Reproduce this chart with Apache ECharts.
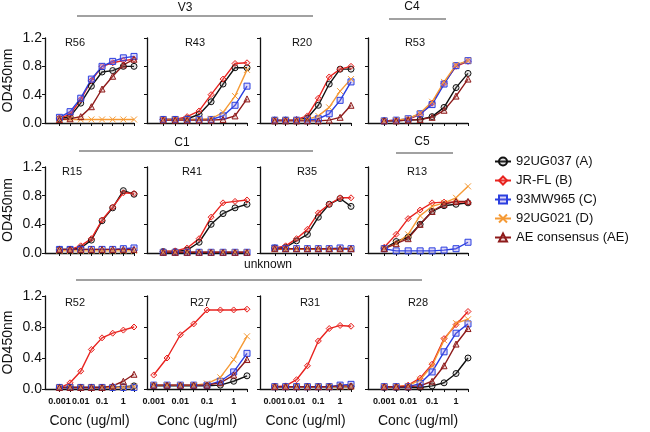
<!DOCTYPE html>
<html>
<head>
<meta charset="utf-8">
<script src="https://cdn.jsdelivr.net/npm/echarts@6/dist/echarts.min.js"></script>
<style>
  html, body { margin: 0; padding: 0; background: #fff; }
  #chart { width: 650px; height: 432px; }
</style>
</head>
<body>
<div id="chart"></div>
<script>
// antibody concentration (ug/ml), ~3.16-fold dilutions
const conc = [0.001, 0.00316, 0.01, 0.0316, 0.1, 0.316, 1, 3.16];
const concLabels = [0.001, 0.01, 0.1, 1];
const strains = ['92UG037 (A)', 'JR-FL (B)', '93MW965 (C)', '92UG021 (D)', 'AE consensus (AE)'];
const panelNames = ['R56', 'R43', 'R20', 'R53', 'R15', 'R41', 'R35', 'R13', 'R52', 'R27', 'R31', 'R28'];

// OD450 per panel, rows: A, B, C, D, AE
const R56 = [
  [0.06, 0.09, 0.28, 0.52, 0.72, 0.74, 0.80, 0.80],
  [0.07, 0.12, 0.33, 0.60, 0.80, 0.85, 0.88, 0.90],
  [0.08, 0.16, 0.35, 0.62, 0.80, 0.87, 0.92, 0.94],
  [0.05, 0.05, 0.05, 0.05, 0.05, 0.05, 0.05, 0.05],
  [0.05, 0.06, 0.09, 0.23, 0.48, 0.66, 0.82, 0.90]
];
const R43 = [
  [0.05, 0.05, 0.06, 0.12, 0.30, 0.55, 0.78, 0.78],
  [0.05, 0.05, 0.09, 0.17, 0.40, 0.62, 0.84, 0.85],
  [0.05, 0.05, 0.05, 0.05, 0.05, 0.10, 0.25, 0.52],
  [0.05, 0.05, 0.05, 0.05, 0.06, 0.15, 0.38, 0.75],
  [0.04, 0.04, 0.04, 0.04, 0.04, 0.05, 0.10, 0.34]
];
const R20 = [
  [0.04, 0.04, 0.04, 0.07, 0.25, 0.55, 0.76, 0.76],
  [0.04, 0.04, 0.05, 0.10, 0.35, 0.65, 0.76, 0.80],
  [0.04, 0.04, 0.04, 0.04, 0.06, 0.13, 0.32, 0.58],
  [0.04, 0.04, 0.04, 0.05, 0.10, 0.22, 0.45, 0.62],
  [0.03, 0.03, 0.03, 0.03, 0.03, 0.04, 0.08, 0.25]
];
const R53 = [
  [0.03, 0.03, 0.04, 0.05, 0.09, 0.22, 0.50, 0.70],
  [0.03, 0.04, 0.05, 0.12, 0.28, 0.56, 0.80, 0.87],
  [0.03, 0.04, 0.06, 0.13, 0.26, 0.55, 0.81, 0.88],
  [0.03, 0.04, 0.06, 0.14, 0.30, 0.58, 0.82, 0.88],
  [0.03, 0.03, 0.04, 0.05, 0.08, 0.18, 0.38, 0.62]
];
const R15 = [
  [0.05, 0.05, 0.07, 0.18, 0.45, 0.63, 0.87, 0.82],
  [0.04, 0.05, 0.10, 0.20, 0.46, 0.64, 0.84, 0.83],
  [0.05, 0.05, 0.05, 0.05, 0.05, 0.05, 0.06, 0.07],
  [0.03, 0.03, 0.03, 0.03, 0.03, 0.03, 0.03, 0.03],
  [0.05, 0.05, 0.05, 0.05, 0.05, 0.05, 0.05, 0.05]
];
const R41 = [
  [0.02, 0.02, 0.04, 0.15, 0.40, 0.55, 0.63, 0.68],
  [0.02, 0.03, 0.07, 0.20, 0.50, 0.70, 0.72, 0.74],
  [0.01, 0.01, 0.01, 0.01, 0.01, 0.01, 0.01, 0.01],
  [0.01, 0.01, 0.01, 0.01, 0.01, 0.01, 0.01, 0.01],
  [0.01, 0.01, 0.01, 0.01, 0.01, 0.01, 0.01, 0.01]
];
const R35 = [
  [0.07, 0.08, 0.17, 0.26, 0.50, 0.68, 0.76, 0.65],
  [0.07, 0.10, 0.20, 0.33, 0.56, 0.68, 0.77, 0.77],
  [0.07, 0.06, 0.06, 0.06, 0.06, 0.06, 0.07, 0.06],
  [0.05, 0.05, 0.05, 0.05, 0.05, 0.05, 0.05, 0.05],
  [0.06, 0.06, 0.06, 0.06, 0.06, 0.06, 0.06, 0.06]
];
const R13 = [
  [0.06, 0.16, 0.22, 0.40, 0.58, 0.66, 0.68, 0.70],
  [0.08, 0.26, 0.48, 0.60, 0.70, 0.71, 0.71, 0.71],
  [0.06, 0.03, 0.03, 0.03, 0.03, 0.04, 0.06, 0.15],
  [0.06, 0.13, 0.26, 0.52, 0.65, 0.70, 0.77, 0.93],
  [0.06, 0.13, 0.20, 0.40, 0.58, 0.68, 0.72, 0.72]
];
const R52 = [
  [0.02, 0.02, 0.02, 0.02, 0.02, 0.02, 0.03, 0.04],
  [0.01, 0.08, 0.23, 0.51, 0.66, 0.72, 0.76, 0.80],
  [0.02, 0.02, 0.02, 0.02, 0.02, 0.02, 0.02, 0.02],
  [0.02, 0.02, 0.02, 0.02, 0.02, 0.02, 0.02, 0.03],
  [0.02, 0.02, 0.02, 0.02, 0.02, 0.04, 0.10, 0.19]
];
const R27 = [
  [0.04, 0.04, 0.04, 0.04, 0.04, 0.05, 0.10, 0.17],
  [0.18, 0.40, 0.70, 0.84, 1.02, 1.02, 1.02, 1.03],
  [0.05, 0.05, 0.05, 0.05, 0.05, 0.10, 0.22, 0.46],
  [0.05, 0.05, 0.05, 0.05, 0.07, 0.15, 0.38, 0.68],
  [0.05, 0.05, 0.05, 0.05, 0.05, 0.08, 0.18, 0.38]
];
const R31 = [
  [0.03, 0.03, 0.03, 0.03, 0.03, 0.03, 0.03, 0.03],
  [0.03, 0.04, 0.12, 0.30, 0.62, 0.78, 0.82, 0.81],
  [0.03, 0.03, 0.03, 0.03, 0.03, 0.03, 0.05, 0.06],
  [0.03, 0.03, 0.03, 0.03, 0.03, 0.03, 0.03, 0.03],
  [0.03, 0.03, 0.03, 0.03, 0.03, 0.03, 0.04, 0.04]
];
const R28 = [
  [0.02, 0.02, 0.02, 0.02, 0.04, 0.08, 0.20, 0.40],
  [0.03, 0.03, 0.05, 0.14, 0.32, 0.65, 0.83, 1.00],
  [0.03, 0.03, 0.03, 0.07, 0.22, 0.48, 0.72, 0.84],
  [0.03, 0.03, 0.04, 0.12, 0.30, 0.63, 0.85, 0.90],
  [0.03, 0.03, 0.03, 0.04, 0.10, 0.30, 0.58, 0.78]
];
const panelData = [R56, R43, R20, R53, R15, R41, R35, R13, R52, R27, R31, R28];

const colors = ['#111111', '#e8231f', '#2b3fe0', '#f59a35', '#8e1b1b'];
const fills = ['rgba(120,120,120,0.2)', 'rgba(240,120,120,0.2)', 'rgba(140,120,230,0.3)', 'rgba(245,160,60,0.2)', 'rgba(200,120,120,0.25)'];
const symbols = ['circle', 'diamond', 'rect', 'path://M0,0L10,10M0,10L10,0', 'triangle'];

const colLeft = [43, 147, 260, 368];
const colWidth = [91, 100, 91, 100];
const rowTop = [38, 167, 296];
const rowHeight = [85, 86, 93];

const chart = echarts.init(document.getElementById('chart'));

const grids = [], xAxes = [], yAxes = [], series = [], graphics = [];
panelNames.forEach((name, p) => {
  const row = Math.floor(p / 4), col = p % 4;
  grids.push({ left: colLeft[col], top: rowTop[row], width: colWidth[col], height: rowHeight[row] });
  const bottom = row === 2;
  xAxes.push({
    type: 'log', logBase: 10, gridIndex: p,
    min: name === 'R27' ? 0.00056 : 0.00021, max: 3.16,
    axisLine: { lineStyle: { color: '#111', width: 1.3 } },
    axisTick: { show: true, length: 3, customValues: conc, lineStyle: { color: '#111' } },
    axisLabel: {
      show: bottom, customValues: concLabels, margin: 8, hideOverlap: false,
      fontSize: 9, fontWeight: 'bold', color: '#111', fontFamily: 'Liberation Sans',
      formatter: v => concLabels.some(c => Math.abs(c - v) / c < 1e-6) ? String(v) : ''
    },
    splitLine: { show: false },
    name: bottom ? 'Conc (ug/ml)' : '', nameLocation: 'middle', nameGap: 25,
    nameTextStyle: { fontSize: 14, color: '#111', fontFamily: 'Liberation Sans' }
  });
  yAxes.push({
    type: 'value', gridIndex: p, min: 0, max: 1.2, interval: 0.4,
    axisLine: { show: true, lineStyle: { color: '#111', width: 1.3 } },
    axisTick: { show: true, length: 3, lineStyle: { color: '#111' } },
    axisLabel: {
      show: col === 0, margin: 3, fontSize: 14, color: '#111', fontFamily: 'Liberation Sans',
      formatter: v => v.toFixed(1)
    },
    splitLine: { show: false },
    name: col === 0 ? 'OD450nm' : '', nameLocation: 'middle', nameRotate: 90, nameGap: 30,
    nameTextStyle: { fontSize: 14, color: '#111', fontFamily: 'Liberation Sans' }
  });
  panelData[p].forEach((vals, s) => {
    series.push({
      type: 'line', name: strains[s], xAxisIndex: p, yAxisIndex: p,
      data: conc.map((c, i) => [c, vals[i]]),
      symbol: symbols[s], symbolSize: 6,
      showAllSymbol: true,
      lineStyle: { color: colors[s], width: 1.4 },
      itemStyle: { color: fills[s], borderColor: colors[s], borderWidth: 1 },
      emphasis: { disabled: true },
      animation: false
    });
  });
});

const titlePos = [
  [75, 43], [195, 43], [302, 43], [415, 43],
  [72, 172], [192, 172], [307, 172], [417, 172],
  [75, 303], [200, 303], [310, 303], [418, 303]
];
panelNames.forEach((name, p) => {
  graphics.push({ type: 'text', x: titlePos[p][0], y: titlePos[p][1],
    style: { text: name, fill: '#111', font: '11px Liberation Sans', align: 'center', verticalAlign: 'middle' } });
});

// group brackets above panels
const groups = [
  { text: 'V3', x: 185, y: 8, x1: 77, x2: 313, ly: 16 },
  { text: 'C4', x: 412, y: 7, x1: 389, x2: 446, ly: 19 },
  { text: 'C1', x: 182, y: 143, x1: 79, x2: 313, ly: 151 },
  { text: 'C5', x: 422, y: 142, x1: 396, x2: 453, ly: 153 },
  { text: 'unknown', x: 268, y: 265, x1: 76, x2: 422, ly: 280 }
];
groups.forEach(g => {
  graphics.push({ type: 'text', x: g.x, y: g.y,
    style: { text: g.text, fill: '#111', font: '12px Liberation Sans', align: 'center', verticalAlign: 'middle' } });
  graphics.push({ type: 'line', shape: { x1: g.x1, y1: g.ly, x2: g.x2, y2: g.ly },
    style: { stroke: '#444', lineWidth: 1.2 } });
});

chart.setOption({
  animation: false,
  backgroundColor: '#fff',
  grid: grids,
  xAxis: xAxes,
  yAxis: yAxes,
  legend: {
    orient: 'vertical', left: 494, top: 155, padding: 0,
    itemWidth: 16, itemHeight: 10, itemGap: 6,
    data: strains,
    textStyle: { fontSize: 13, color: '#111', fontFamily: 'Liberation Sans' }
  },
  graphic: graphics,
  series: series
});
</script>
</body>
</html>
